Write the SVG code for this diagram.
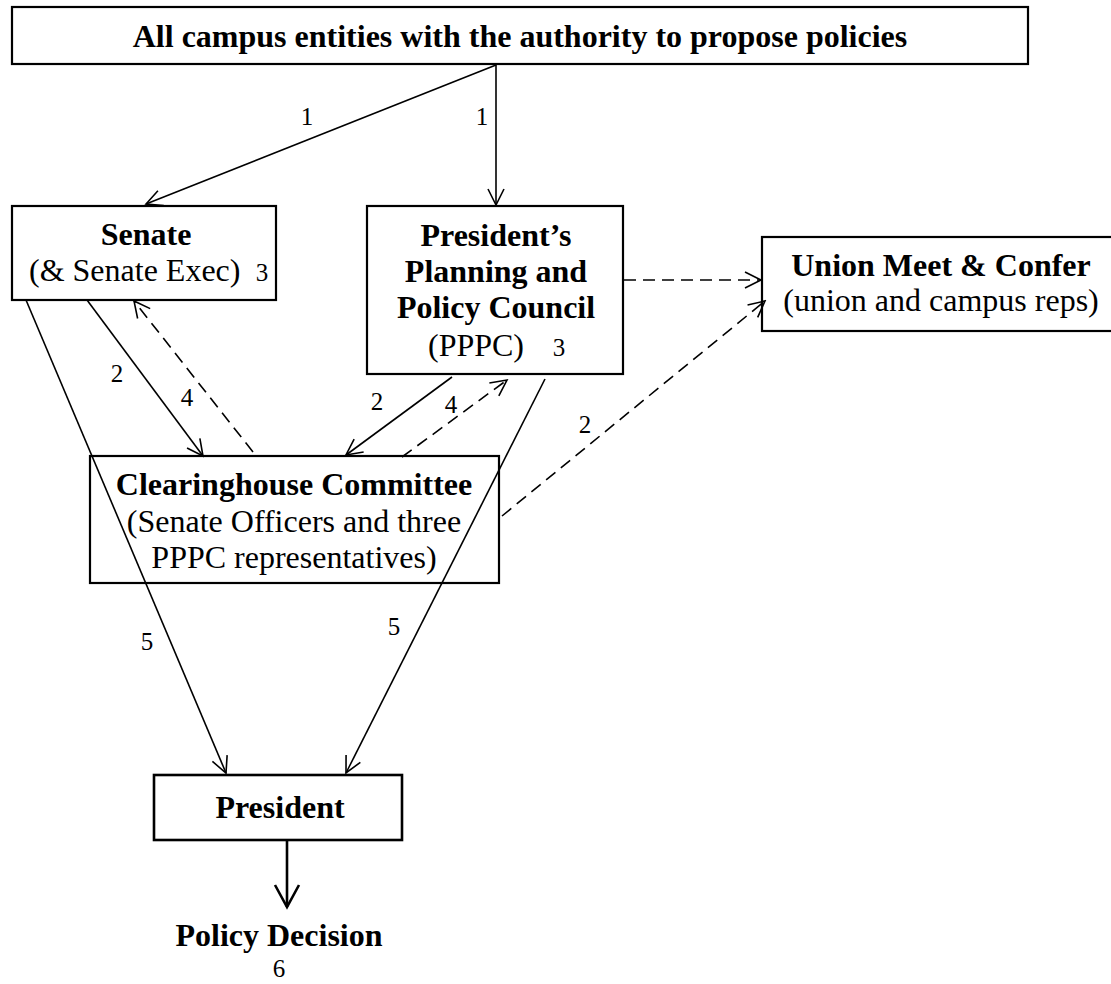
<svg xmlns="http://www.w3.org/2000/svg" width="1111" height="984" viewBox="0 0 1111 984">
<style>
.box{fill:#fff;stroke:#000;stroke-width:2.2}
.t{font-family:"Liberation Serif","Times New Roman",serif;font-size:32px;fill:#000;text-anchor:middle}
.b{font-weight:bold}
.n{font-family:"Liberation Serif","Times New Roman",serif;font-size:25px;fill:#000;text-anchor:middle}
.ln{fill:none;stroke:#000;stroke-width:1.6;marker-end:url(#arr)}
.d{stroke-dasharray:12 7}
</style>
<defs>
<marker id="arr" markerUnits="userSpaceOnUse" markerWidth="20" markerHeight="20" viewBox="-18 -10 20 20" refX="0" refY="0" orient="auto">
<path d="M-16,-8 L0,0 L-16,8" fill="none" stroke="#000" stroke-width="1.6" stroke-dasharray="none"/>
</marker>
<marker id="arrB" markerUnits="userSpaceOnUse" markerWidth="28" markerHeight="30" viewBox="-25 -15 28 30" refX="0" refY="0" orient="auto">
<path d="M-22,-12 L0,0 L-22,12" fill="none" stroke="#000" stroke-width="2.6" stroke-dasharray="none"/>
</marker>
</defs>
<rect width="1111" height="984" fill="#fff"/>
<g id="top">
<rect class="box" x="12" y="7" width="1016" height="57"/>
<text class="t b" x="520" y="47">All campus entities with the authority to propose policies</text>
</g>
<g id="senate">
<rect class="box" x="12" y="206" width="264" height="94"/>
<text class="t b" x="146" y="245">Senate</text>
<text class="t" x="29" y="281" style="text-anchor:start">(&amp; Senate Exec)</text>
<text class="n" x="262" y="281">3</text>
</g>
<g id="pppc">
<rect class="box" x="367" y="206" width="256" height="168"/>
<text class="t b" x="496" y="246">President’s</text>
<text class="t b" x="496" y="282">Planning and</text>
<text class="t b" x="496" y="318">Policy Council</text>
<text class="t" x="476" y="356">(PPPC)</text>
<text class="n" x="559" y="356">3</text>
</g>
<g id="union">
<rect class="box" x="762" y="237" width="360" height="94"/>
<text class="t b" x="941" y="276">Union Meet &amp; Confer</text>
<text class="t" x="941" y="311">(union and campus reps)</text>
</g>
<g id="clearinghouse">
<rect class="box" x="90" y="456" width="409" height="127"/>
<text class="t b" x="294" y="495">Clearinghouse Committee</text>
<text class="t" x="294" y="532">(Senate Officers and three</text>
<text class="t" x="294" y="568">PPPC representatives)</text>
</g>
<g id="president">
<rect class="box" x="154" y="775" width="248" height="65" style="stroke-width:2.6"/>
<text class="t b" x="280" y="818">President</text>
</g>
<g id="decision">
<text class="t b" x="279" y="946">Policy Decision</text>
<text class="n" x="279" y="977">6</text>
</g>
<g id="connectors">
<line class="ln" x1="496" y1="65" x2="146" y2="204"/>
<line class="ln" x1="496" y1="65" x2="496" y2="205"/>
<line class="ln" x1="87" y1="300" x2="203" y2="456"/>
<line class="ln d" x1="253" y1="452" x2="134" y2="301"/>
<line class="ln" x1="452" y1="377" x2="346" y2="455"/>
<line class="ln d" x1="402" y1="457" x2="507" y2="380"/>
<line class="ln d" x1="624" y1="280" x2="761" y2="280"/>
<line class="ln d" x1="502" y1="516" x2="765" y2="301"/>
<line class="ln" x1="26" y1="300" x2="226" y2="773"/>
<line class="ln" x1="545" y1="379" x2="346" y2="773"/>
<line x1="287" y1="840" x2="287" y2="907" stroke="#000" stroke-width="2.6" marker-end="url(#arrB)"/>
<text class="n" x="307" y="125">1</text>
<text class="n" x="482" y="125">1</text>
<text class="n" x="117" y="382">2</text>
<text class="n" x="187" y="406">4</text>
<text class="n" x="377" y="410">2</text>
<text class="n" x="451" y="413">4</text>
<text class="n" x="585" y="433">2</text>
<text class="n" x="147" y="650">5</text>
<text class="n" x="394" y="635">5</text>
</g>
</svg>
